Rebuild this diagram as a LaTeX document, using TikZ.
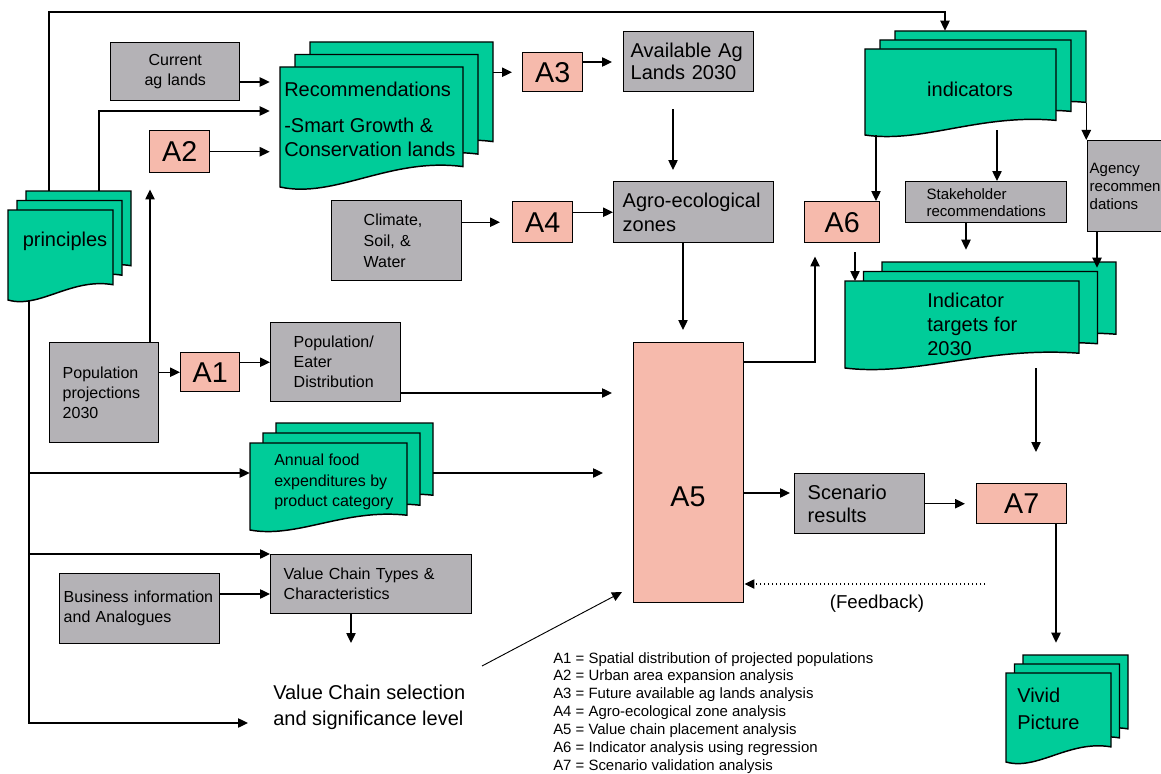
\documentclass[tikz,border=0pt]{standalone}
\usepackage{fontspec}
\setmainfont{Liberation Sans}
\usetikzlibrary{arrows.meta,fit}

\definecolor{docgreen}{RGB}{0,204,153}
\definecolor{boxgrey}{RGB}{180,178,182}
\definecolor{apink}{RGB}{246,186,172}

% one page of a document shape: x, y, width, height
\newcommand{\docpage}[4]{%
  \draw[docline] ({#1},{#2}) -- ({#1+#3},{#2}) -- ({#1+#3},{#2+0.83*#4})
    .. controls ({#1+0.6*#3},{#2+0.75*#4}) and ({#1+0.3*#3},{#2+1.1*#4}) .. ({#1},{#2+#4}) -- cycle;}
% three pages: name, x, y, width, height, dx, dy
\newcommand{\docstack}[7]{%
  \docpage{#2+2*#6}{#3+2*#7}{#4}{#5}
  \docpage{#2+#6}{#3+#7}{#4}{#5}
  \docpage{#2}{#3}{#4}{#5}
  \coordinate (#1-f) at ({#2},{#3});
  \node[inner sep=0pt, fit={({#2},{#3+2*#7}) ({#2+#4+2*#6},{#3+#5})}] (#1) {};}

\begin{document}
\begin{tikzpicture}[x=0.75pt,y=0.75pt,yscale=-1,xscale=1,
  greybox/.style={draw, fill=boxgrey, line width=1.1pt, anchor=north west, inner ysep=0pt, align=left, font=\fontsize{12}{15}\selectfont},
  abox/.style={draw, fill=apink, line width=1.1pt, anchor=north west, inner sep=0pt, font=\fontsize{21.5}{24}\selectfont},
  docline/.style={fill=docgreen, line width=1.1pt},
  flow/.style={-{Triangle[length=7.5pt,width=7pt]}, line width=1pt},
  bigfont/.style={font=\fontsize{15}{18}\selectfont}]
\useasboundingbox (0,0) rectangle (1161,774);

%Shape: Document stacks
\docstack{princ}{8}{210}{105}{90}{9}{-9.5}
\docstack{rec}{280}{67}{183}{120}{15}{-12.5}
\docstack{indic}{865}{49}{191}{86}{15}{-9}
\docstack{food}{250}{443}{157}{87}{13}{-10}
\docstack{tgt}{845}{281}{234}{87}{18.5}{-9.5}
\docstack{viv}{1006}{673}{105}{89}{8.5}{-9}

% Text Node
\node[bigfont] (princtxt) at (65,241) {principles};
\node[anchor=north west, inner sep=0pt, align=left, bigfont] (rectxt) at (284,82) {Recommendations\\[9pt]-Smart Growth \&\\Conservation lands};
\node[bigfont] (indtxt) at (970,89) {indicators};
\node[anchor=north west, inner sep=0pt, align=left, font=\fontsize{12}{15.4}\selectfont] (foodtxt) at (274,454) {Annual food\\expenditures by\\product category};
\node[anchor=north west, inner sep=0pt, align=left, bigfont] (tgttxt) at (927,293) {Indicator\\targets for\\2030};
\node[anchor=north west, inner sep=0pt, align=left, font=\fontsize{15}{20.25}\selectfont] (vivtxt) at (1017,688) {Vivid\\Picture};

%Shape: Rectangle (grey)
\node[greybox, align=center, inner xsep=7.5pt, text width=81.75pt, minimum height=43.5pt] (cur) at (110,42) {Current\\ag lands};
\node[greybox, inner xsep=5.25pt, text width=87pt, minimum height=45pt, font=\fontsize{15}{16.5}\selectfont] (avail) at (623,31) {Available Ag\\Lands 2030};
\node[greybox, inner xsep=6.75pt, text width=106.5pt, minimum height=45.75pt, bigfont] (agro) at (613,181) {Agro-ecological\\zones};
\node[greybox, inner xsep=24pt, text width=49.5pt, minimum height=60pt, font=\fontsize{12}{16}\selectfont] (clim) at (331,200) {Climate,\\Soil, \&\\Water};
\node[greybox, inner xsep=9.75pt, text width=62.25pt, minimum height=75pt] (pop) at (49,342) {Population\\projections\\2030};
\node[greybox, inner xsep=17.25pt, text width=63pt, minimum height=59.25pt] (eater) at (270,322) {Population/\\Eater\\Distribution};
\node[greybox, inner xsep=9.75pt, text width=131.25pt, minimum height=44.25pt] (vct) at (270,554) {Value Chain Types \&\\Characteristics};
\node[greybox, inner xsep=3pt, text width=114pt, minimum height=52.5pt] (biz) at (59,573) {Business information\\and Analogues};
\node[greybox, inner xsep=9.75pt, text width=78pt, minimum height=45pt, font=\fontsize{15}{17.5}\selectfont] (scen) at (794,473) {Scenario\\results};
\node[greybox, minimum width=120.75pt, minimum height=30.75pt, font=\fontsize{11.25}{12.75}\selectfont] (stake) at (905,181) {Stakeholder\\recommendations};
\node[greybox, inner xsep=1.5pt, text width=64.5pt, minimum height=68.25pt, font=\fontsize{11.25}{13.5}\selectfont] (agency) at (1087,140) {Agency\\recommen\\dations};

%Shape: Rectangle (analyses)
\node[abox, minimum width=44.25pt, minimum height=29.25pt] (a1) at (180,352) {A1};
\node[abox, minimum width=45pt, minimum height=31.5pt] (a2) at (149,130) {A2};
\node[abox, minimum width=45pt, minimum height=29.25pt] (a3) at (522,52) {A3};
\node[abox, minimum width=45pt, minimum height=30.75pt] (a4) at (512,201) {A4};
\node[abox, minimum width=82.5pt, minimum height=195pt] (a5) at (633,342) {};
\node[font=\fontsize{21.5}{24}\selectfont] (a5txt) at (688,497) {A5};
\node[abox, minimum width=56.25pt, minimum height=30.75pt] (a6) at (804,201) {A6};
\node[abox, minimum width=67.5pt, minimum height=30pt] (a7) at (976,483) {A7};

% Text Node
\node[anchor=north west, inner sep=0pt, align=left, bigfont, font=\fontsize{15}{19.5}\selectfont] (sel) at (273,685) {Value Chain selection\\and significance level};
\node[font=\fontsize{14}{16}\selectfont] (fb) at (877,604) {(Feedback)};
\node[anchor=north west, inner sep=0pt, align=left, font=\fontsize{11.2}{13.4}\selectfont] (legend) at (553,652) {A1 = Spatial distribution of projected populations\\A2 = Urban area expansion analysis\\A3 = Future available ag lands analysis\\A4 = Agro-ecological zone analysis\\A5 = Value chain placement analysis\\A6 = Indicator analysis using regression\\A7 = Scenario validation analysis};

%Straight Lines
\coordinate (ctop) at (49,12);
\draw[flow] (princ.north -| ctop) -- (ctop) -| (indic.north -| 945,0);
\draw[flow, shorten >=7.5pt] (princ.north -| 99,0) |- (rec.west |- 0,111);
\draw[flow, shorten >=7.5pt] (cur.east |- 0,82) -- (rec.west |- 0,82);
\draw[flow, shorten >=7.5pt] (a2.east) -- (a2.east -| rec.west);
\draw[flow, shorten >=7.5pt] (rec.east |- a3.west) -- (a3.west);
\draw[flow, shorten >=8.25pt] (a3.east |- 0,62) -- (avail.west |- 0,62);
\draw[flow, shorten <=12.75pt, shorten >=8.25pt] (avail.south -| 673,0) -- (agro.north -| 673,0);
\draw[flow, shorten >=9pt] (clim.east |- a4.west) -- (a4.west);
\draw[flow] (a4.east |- agro.west) -- (agro.west);
\draw[flow, shorten >=9pt] (agro.south -| 683,0) -- (a5.north -| 683,0);
\draw[flow] (pop.east |- a1.west) -- (a1.west);
\draw[flow] (a1.east |- eater.west) -- (eater.west);
\draw[flow, shorten >=12pt] (pop.north -| 150,0) -- (a2.south -| 150,0);
\draw[flow, shorten >=15.75pt] (eater.east |- 0,393) -- (a5.west |- 0,393);
\draw[flow, shorten >=18.75pt] (princ.south -| 29,0) |- (sel.west |- 0,723);
\draw[flow] (princ.south -| 29,0) |- (food.west |- 0,473);
\draw[flow] (princ.south -| 29,0) |- (vct.north west);
\draw[flow, shorten >=22.5pt] (food.east |- 0,473) -- (a5.west |- 0,473);
\draw[flow] (biz.east |- 0,594) -- (vct.west |- 0,594);
\draw[flow, shorten >=31.5pt] (vct.south -| 351,0) -- (sel.north -| 351,0);
\coordinate (selout) at (482,666);
\coordinate (a5in) at (622,592);
\draw[flow, line width=0.7pt] (selout) -- (a5in);
\coordinate (fbstart) at (985,584);
\draw[flow, dotted] (fbstart) -- (a5.east |- fbstart);
\draw[flow, shorten >=3pt] (a5.east |- 0,493) -- (scen.west |- 0,493);
\draw[flow, shorten >=8.25pt] (scen.east) -- (scen.east -| a7.west);
\draw[flow, shorten >=9pt] (a7.south -| 1056,0) -- (viv.north -| 1056,0);
\draw[flow, shorten >=23.25pt] (tgt.south -| 1036,0) -- (a7.north -| 1036,0);
\draw[flow] (indic.south -| 876,0) -- (a6.north -| 876,0);
\draw[flow, shorten <=-3.75pt] (indic.south -| 997,0) -- (stake.north -| 997,0);
\draw[flow] (indic.east |- 0,103) -- (agency.north -| indic.east);
\draw[flow, shorten >=9pt] (stake.south -| 966,0) -- (tgt.north -| 966,0);
\draw[flow, shorten >=-4.5pt] (agency.south -| 1097,0) -- (tgt.north -| 1097,0);
\draw[flow, shorten <=6.75pt] (a6.south -| 855,0) -- (tgt-f -| 855,0);
\draw[flow, shorten >=9.75pt] (a5.east |- 0,362) -| (a6.south -| 815,0);

\end{tikzpicture}
\end{document}
